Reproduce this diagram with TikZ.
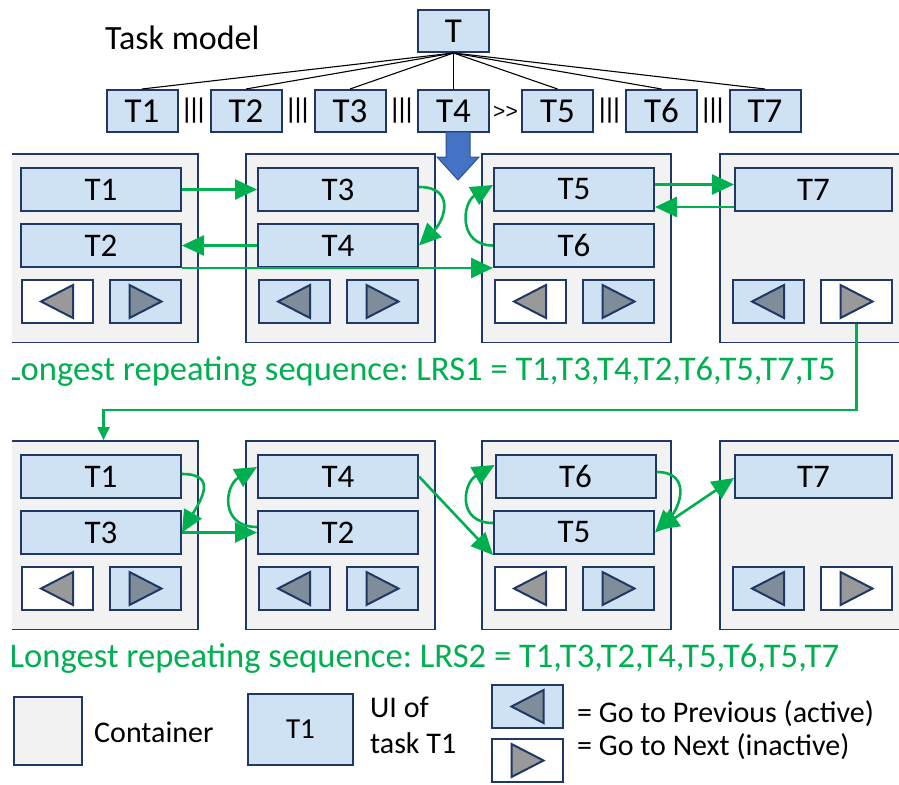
\documentclass[tikz,border=0pt]{standalone}
\usepackage{fontspec}
\setmainfont{Carlito}
\newfontfamily\opfont{Liberation Sans}
\usetikzlibrary{arrows.meta}
\frenchspacing
\definecolor{navy}{RGB}{31,56,100}
\definecolor{lblue}{RGB}{207,226,243}
\definecolor{contgray}{RGB}{242,242,242}
\definecolor{grn}{RGB}{0,176,80}
\definecolor{bigblue}{RGB}{68,114,196}
\definecolor{bigblueedge}{RGB}{47,82,143}
\definecolor{triA}{RGB}{127,140,153}
\definecolor{triI}{RGB}{153,153,153}
\newcommand\prevtri[2]{\draw[tri,fill=#2] ([xshift=-16pt]#1.center) -- ([xshift=16pt,yshift=16.5pt]#1.center) -- ([xshift=16pt,yshift=-16.5pt]#1.center) -- cycle;}
\newcommand\nexttri[2]{\draw[tri,fill=#2] ([xshift=16pt]#1.center) -- ([xshift=-16pt,yshift=16.5pt]#1.center) -- ([xshift=-16pt,yshift=-16.5pt]#1.center) -- cycle;}
\begin{document}
\begin{tikzpicture}[x=1pt,y=-1pt,
  cont/.style={draw=navy, fill=contgray, line width=1.8pt, inner sep=0pt, minimum width=189pt, minimum height=188.5pt},
  task/.style={draw=navy, fill=lblue, line width=2pt, inner sep=0pt, minimum width=160pt, minimum height=43pt, font=\fontsize{33}{33}\selectfont},
  ttask/.style={draw=navy, fill=lblue, line width=2pt, inner sep=0pt, minimum width=71pt, minimum height=42pt, font=\fontsize{35}{35}\selectfont},
  btnA/.style={draw=navy, fill=lblue, line width=2pt, inner sep=0pt, minimum width=71pt, minimum height=43pt},
  btnI/.style={btnA, fill=white},
  tri/.style={draw=navy, line width=2pt, line join=miter},
  tree/.style={draw=black, line width=1.1pt},
  opr/.style={inner sep=0pt, font=\opfont\fontsize{27}{27}\selectfont},
  garrow/.style={draw=grn, line width=2.6pt, -{Triangle[length=22pt,width=20pt]}},
  garrowS/.style={draw=grn, line width=2.2pt, -{Triangle[length=13pt,width=12pt]}},
  garrowD/.style={draw=grn, line width=2.6pt, {Triangle[length=22pt,width=20pt]}-{Triangle[length=22pt,width=20pt]}},
  lrs/.style={anchor=base west, inner sep=0pt, text=grn, font=\fontsize{34.6}{34.6}\selectfont},
  leg/.style={anchor=base west, inner sep=0pt, font=\fontsize{30}{30}\selectfont}
]
\useasboundingbox (0,0) rectangle (899,784);
\clip (12,0) rectangle (899,784);

% ---------- task model ----------
\node[anchor=base west, inner sep=0pt, font=\fontsize{34}{34}\selectfont] (tm) at (105,50) {Task model};
\node[ttask] (T) at (453.5,31) {T};
\node[ttask] (L1) at (142,111) {T1};
\node[ttask] (L2) at (246,111) {T2};
\node[ttask] (L3) at (350,111) {T3};
\node[ttask] (L4) at (453.5,111) {T4};
\node[ttask] (L5) at (557.5,111) {T5};
\node[ttask] (L6) at (661.5,111) {T6};
\node[ttask] (L7) at (765,111) {T7};
\foreach \i in {1,...,7} {\draw[tree] (T.south) -- (L\i.north);}
\node[opr] (o1) at (194,111) {|||};
\node[opr] (o2) at (298,111) {|||};
\node[opr] (o3) at (402,111) {|||};
\node[inner sep=0pt, font=\opfont\fontsize{21}{21}\selectfont] (o4) at (505.5,112) {>>};
\node[opr] (o5) at (609.5,111) {|||};
\node[opr] (o6) at (713,111) {|||};

% big blue arrow
\draw[fill=bigblue, draw=bigblueedge, line width=1pt, line join=miter]
  (446,132) -- (470,132) -- (470,157) -- (479,157) -- (458,180) -- (437,157) -- (446,157) -- cycle;

% ---------- row 1 ----------
\node[cont] (c1a) at (103.5,248.25) {};
\node[cont] (c2a) at (340.5,248.25) {};
\node[cont] (c3a) at (576.5,248.25) {};
\node[cont] (c4a) at (814.5,248.25) {};

\node[task] (r1t1) at (101,189.5) {T1};
\node[task] (r1t2) at (101,245.5) {T2};
\node[task] (r1t3) at (338,189.5) {T3};
\node[task] (r1t4) at (338,245.5) {T4};
\node[task] (r1t5) at (574,189.5) {T5};
\node[task] (r1t6) at (574,245.5) {T6};
\node[task, minimum width=157pt] (r1t7) at (813.5,189.5) {T7};

\node[btnI] (r1p1) at (57,301.5) {};    \prevtri{r1p1}{triI}
\node[btnA] (r1n1) at (145.5,301.5) {}; \nexttri{r1n1}{triA}
\node[btnA] (r1p2) at (294,301.5) {};   \prevtri{r1p2}{triA}
\node[btnA] (r1n2) at (382.5,301.5) {}; \nexttri{r1n2}{triA}
\node[btnI] (r1p3) at (530,301.5) {};   \prevtri{r1p3}{triI}
\node[btnA] (r1n3) at (618.5,301.5) {}; \nexttri{r1n3}{triA}
\node[btnA] (r1p4) at (768,301.5) {};   \prevtri{r1p4}{triA}
\node[btnI] (r1n4) at (856.5,301.5) {}; \nexttri{r1n4}{triI}

\draw[garrow] (r1t1.east) -- (r1t3.west);
\draw[garrow] ([yshift=2.5pt]r1t3.east) to[out=0,in=45,looseness=1.6] (r1t4.east);
\draw[garrow] (r1t4.west) -- (r1t2.east);
\draw[garrow] (r1t2.south east) -- (r1t6.south west);
\draw[garrow] (r1t6.west) to[out=180,in=210,looseness=1.5] ([yshift=4.5pt]r1t5.west);
\draw[garrow] ([yshift=5pt]r1t5.east) -- ([yshift=5pt]r1t7.west);
\draw[garrow] ([yshift=-17.5pt]r1t7.west) -- ([yshift=-17.5pt]r1t5.east);

\node[lrs] (lrs1) at (6,380) {Longest repeating sequence: LRS1 = T1,T3,T4,T2,T6,T5,T7,T5};

% ---------- row 2 ----------
\node[cont] (c1b) at (103.5,535.25) {};
\node[cont] (c2b) at (340.5,535.25) {};
\node[cont] (c3b) at (576.5,535.25) {};
\node[cont] (c4b) at (814.5,535.25) {};

\draw[garrowS] (r1n4.south) -- ++(0,86) -| (c1b.north);

\node[task] (r2t1) at (101,476.5) {T1};
\node[task] (r2t3) at (101,532.5) {T3};
\node[task] (r2t4) at (338,476.5) {T4};
\node[task] (r2t2) at (338,532.5) {T2};
\node[task] (r2t6) at (575.5,476.5) {T6};
\node[task] (r2t5) at (574,532.5) {T5};
\node[task, minimum width=157pt] (r2t7) at (813.5,476.5) {T7};

\node[btnI] (r2p1) at (57,588.5) {};    \prevtri{r2p1}{triI}
\node[btnA] (r2n1) at (145.5,588.5) {}; \nexttri{r2n1}{triA}
\node[btnA] (r2p2) at (294,588.5) {};   \prevtri{r2p2}{triA}
\node[btnA] (r2n2) at (382.5,588.5) {}; \nexttri{r2n2}{triA}
\node[btnI] (r2p3) at (530,588.5) {};   \prevtri{r2p3}{triI}
\node[btnA] (r2n3) at (618.5,588.5) {}; \nexttri{r2n3}{triA}
\node[btnA] (r2p4) at (768,588.5) {};   \prevtri{r2p4}{triA}
\node[btnI] (r2n4) at (856.5,588.5) {}; \nexttri{r2n4}{triI}

\draw[garrow] ([yshift=2.5pt]r2t1.east) to[out=0,in=60,looseness=1.6] (r2t3.east);
\draw[garrow] (r2t3.east) -- (r2t2.west);
\draw[garrow] ([yshift=5.5pt]r2t2.west) to[out=180,in=210,looseness=1.6] ([yshift=9.5pt]r2t4.west);
\draw[garrow] (r2t4.east) -- (r2t5.south west);
\draw[garrow] ([yshift=9.5pt]r2t5.west) to[out=180,in=210,looseness=1.6] ([yshift=11.5pt]r2t6.west);
\draw[garrow] ([yshift=4.5pt]r2t6.east) to[out=0,in=45,looseness=1.5] (r2t5.east);
\draw[garrowD] ([xshift=2pt,yshift=2.5pt]r2t5.east) -- ([yshift=-1.5pt]r2t7.west);

\node[lrs] (lrs2) at (9.5,667) {Longest repeating sequence: LRS2 = T1,T3,T2,T4,T5,T6,T5,T7};

% ---------- legend ----------
\node[cont, minimum width=68pt, minimum height=68pt] (lgc) at (48,731) {};
\node[leg] (lgct) at (94,742) {Container};
\node[task, minimum width=105pt, minimum height=71pt, font=\fontsize{29}{29}\selectfont] (lgt) at (300.5,729.5) {T1};
\node[leg] (lgu1) at (370,717) {UI of};
\node[leg] (lgu2) at (370,753) {task T1};
\node[btnA] (lgp) at (527.5,706.5) {}; \prevtri{lgp}{triA}
\node[btnI] (lgn) at (527.5,760.5) {}; \nexttri{lgn}{triI}
\node[leg] (lgpt) at (577,722) {= Go to Previous (active)};
\node[leg] (lgnt) at (577,755) {= Go to Next (inactive)};
\end{tikzpicture}
\end{document}
